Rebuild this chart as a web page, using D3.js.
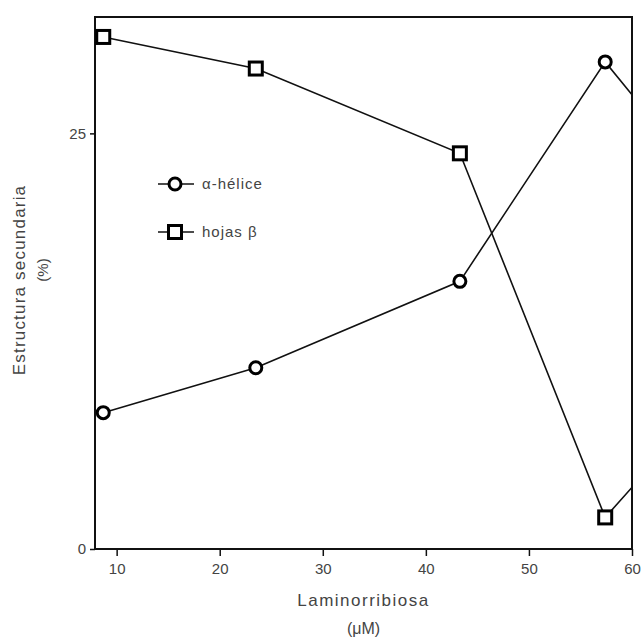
<!DOCTYPE html>
<html>
<head>
<meta charset="utf-8">
<script src="https://cdn.jsdelivr.net/npm/d3@7"></script>
<style>
  body { margin: 0; background: #fff; }
  text { font-family: "Liberation Sans", Arial, sans-serif; fill: #444; }
</style>
</head>
<body>
<div id="chart"></div>
<script>
// values (last point lies past the frame and is clipped)
const conc = [8.7, 23.5, 43.3, 57.4, 62];
const helice = [8.2, 10.9, 16.1, 29.3, 25.8];
const hojas = [30.8, 28.9, 23.8, 1.9, 5.1];
const xTicks = [10, 20, 30, 40, 50, 60];
const yTicks = [0, 25];

const margin = {top: 17, right: 12, bottom: 91, left: 95},
    width = 644 - margin.left - margin.right,
    height = 640 - margin.top - margin.bottom;

const svg = d3.select("#chart").append("svg")
    .attr("width", 644).attr("height", 640)
  .append("g").attr("transform", `translate(${margin.left},${margin.top})`);

const x = d3.scaleLinear().domain([7.9, 60]).range([0, width]);
const y = d3.scaleLinear().domain([0, 32]).range([height, 0]);

svg.append("clipPath").attr("id", "clip")
  .append("rect").attr("width", width).attr("height", height);

// frame
svg.append("rect").attr("width", width).attr("height", height)
  .attr("fill", "none").attr("stroke", "#111").attr("stroke-width", 2);

// axes
const xAxis = svg.append("g").attr("transform", `translate(0,${height})`)
  .call(d3.axisBottom(x).tickValues(xTicks).tickSize(7).tickPadding(7));
const yAxis = svg.append("g")
  .call(d3.axisLeft(y).tickValues(yTicks).tickSize(5).tickPadding(4));
[xAxis, yAxis].forEach(a => {
  a.select(".domain").remove();
  a.selectAll("line").attr("stroke", "#111").attr("stroke-width", 1.5);
  a.selectAll("text").style("font-size", "15px").attr("fill", "#555");
});

const series = [
  {name: "α-hélice", vals: helice, shape: "circle"},
  {name: "hojas β", vals: hojas, shape: "square"}
];

const line = d3.line().x((d, i) => x(conc[i])).y(d => y(d));
const plot = svg.append("g").attr("clip-path", "url(#clip)");

function marker(g, shape) {
  if (shape == "circle")
    g.append("circle").attr("r", 6);
  else
    g.append("rect").attr("x", -6.5).attr("y", -6.5).attr("width", 13).attr("height", 13);
  g.selectAll("circle,rect").attr("fill", "#fff").attr("stroke", "#000").attr("stroke-width", 3);
}

series.forEach(s => {
  plot.append("path").datum(s.vals).attr("d", line)
    .attr("fill", "none").attr("stroke", "#111").attr("stroke-width", 1.6);
  s.vals.forEach((v, i) => {
    marker(plot.append("g").attr("transform", `translate(${x(conc[i])},${y(v)})`), s.shape);
  });
});

// legend
const leg = svg.append("g").attr("transform", `translate(${158 - margin.left},${184 - margin.top})`);
series.forEach((s, i) => {
  const row = leg.append("g").attr("transform", `translate(0,${i * 48})`);
  row.append("line").attr("x1", 0).attr("x2", 36).attr("stroke", "#111").attr("stroke-width", 1.6);
  marker(row.append("g").attr("transform", "translate(17,0)"), s.shape);
  row.append("text").attr("x", 44).attr("dy", "0.35em").style("font-size", "15px")
    .style("letter-spacing", "1px").text(s.name);
});

// axis titles
svg.append("text").attr("x", width / 2).attr("y", height + 57)
  .attr("text-anchor", "middle").style("font-size", "17px").style("letter-spacing", "1.5px")
  .text("Laminorribiosa");
svg.append("text").attr("x", width / 2).attr("y", height + 85)
  .attr("text-anchor", "middle").style("font-size", "16px").text("(μM)");
svg.append("text").attr("transform", `translate(-70,${280 - margin.top}) rotate(-90)`)
  .attr("text-anchor", "middle").style("font-size", "17px").style("letter-spacing", "1.2px")
  .text("Estructura secundaria");
svg.append("text").attr("transform", `translate(-47,${270 - margin.top}) rotate(-90)`)
  .attr("text-anchor", "middle").style("font-size", "15px").text("(%)");
</script>
</body>
</html>
